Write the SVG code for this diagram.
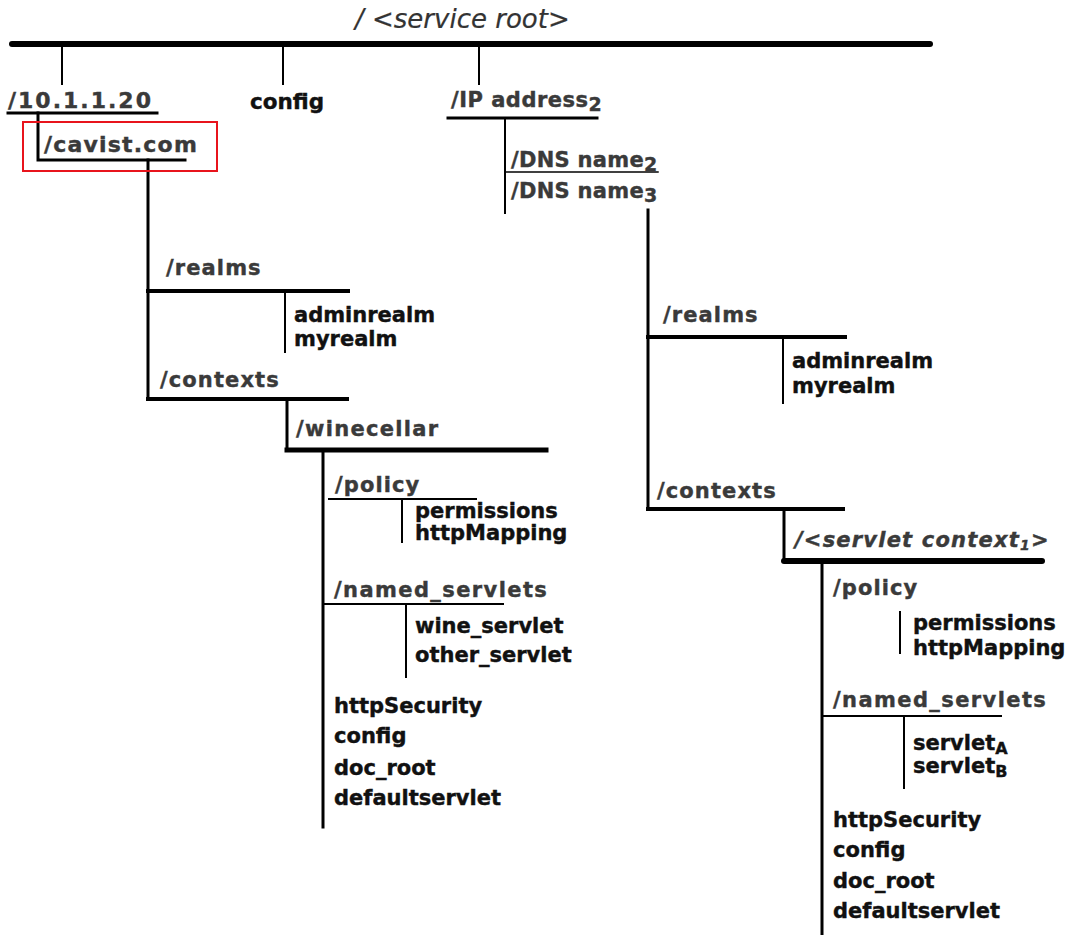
<svg xmlns="http://www.w3.org/2000/svg" width="1075" height="935" viewBox="0 0 1075 935">
<style>
  text { font-family: "DejaVu Sans", "Liberation Sans", sans-serif; font-weight: bold; }
  .h { fill: #3a3a3a; stroke: #3a3a3a; stroke-width: 0.4px; font-size: 21px; letter-spacing: 1.1px; }
  .leaf { fill: #111; stroke: #111; stroke-width: 0.4px; font-size: 21px; }
  .title { fill: #333; font-size: 26px; font-style: italic; font-weight: normal; stroke: #333; stroke-width: 0.2px; }
  .it { font-style: italic; }
  .ln { fill: none; stroke: #000; stroke-linecap: square; }
  .w1 { stroke-width: 1.5; }
  .w2 { stroke-width: 2; }
  .w3 { stroke-width: 3; }
  .w4 { stroke-width: 4; }
  .w5 { stroke-width: 5; }
  .w6 { stroke-width: 6; stroke-linecap: round; }
</style>
<rect width="1075" height="935" fill="#fff"/>
<g id="connectors">
  <path class="ln w6" d="M12,44 H930"/>
  <path class="ln w2" d="M62,44 V84 M283,44 V84 M479,44 V84"/>
  <path class="ln w3" d="M8,113 H157"/>
  <path class="ln w3" d="M38,113 V160 H185"/>
  <path class="ln w3" d="M148,160 V399"/>
  <path class="ln w4" d="M148,291 H348"/>
  <path class="ln w4" d="M148,399 H347"/>
  <path class="ln w2" d="M285,291 V352"/>
  <path class="ln w3" d="M287,399 V450"/>
  <path class="ln w5" d="M287,450 H546"/>
  <path class="ln w3" d="M323,450 V827"/>
  <path class="ln w2" d="M329,499 H476 M402,499 V542"/>
  <path class="ln w2" d="M323,604 H503 M406,604 V677"/>
  <path class="ln w3" d="M448,118 H597"/>
  <path class="ln w2" d="M505,118 V213"/>
  <path class="ln w1" d="M505,172 H658"/>
  <path class="ln w3" d="M648,210 V509"/>
  <path class="ln w4" d="M648,337 H845 M648,509 H843"/>
  <path class="ln w2" d="M783,337 V403"/>
  <path class="ln w3" d="M784,509 V561"/>
  <path class="ln w6" d="M784,561 H1042"/>
  <path class="ln w3" d="M822,561 V935"/>
  <path class="ln w2" d="M900,612 V653"/>
  <path class="ln w2" d="M822,716 H1001 M904,716 V788"/>
</g>
<g id="service-root"><text class="title" x="355" y="28">/ &lt;service root&gt;</text></g>
<g id="ip-10-1-1-20"><text class="h" x="8" y="108" style="font-size:22px;letter-spacing:2px">/10.1.1.20</text></g>
<g id="config-top"><text class="leaf" x="250" y="109" style="font-size:21.5px">config</text></g>
<g id="ip-address2"><text class="h" x="451" y="107" style="letter-spacing:0.5px">/IP address<tspan dy="4" style="font-size:19px">2</tspan></text></g>
<g id="cavist">
  <text class="h" x="44" y="152" style="font-size:22px;letter-spacing:1.2px">/cavist.com</text>
  <rect x="23" y="122" width="194" height="49" fill="none" stroke="#e8141c" stroke-width="2"/>
</g>
<g id="dns-name2"><text class="h" x="511" y="167" style="letter-spacing:0.3px">/DNS name<tspan dy="4" style="font-size:19px">2</tspan></text></g>
<g id="dns-name3"><text class="h" x="511" y="198" style="letter-spacing:0.3px">/DNS name<tspan dy="4" style="font-size:19px">3</tspan></text></g>

<g id="left-realms">
  <text class="h" x="166" y="275">/realms</text>
  <text class="leaf" x="294" y="322">adminrealm</text>
  <text class="leaf" x="294" y="346">myrealm</text>
</g>
<g id="left-contexts"><text class="h" x="160" y="387">/contexts</text></g>
<g id="winecellar"><text class="h" x="296" y="436" style="letter-spacing:1.3px">/winecellar</text></g>
<g id="left-policy">
  <text class="h" x="335" y="492">/policy</text>
  <text class="leaf" x="415" y="518">permissions</text>
  <text class="leaf" x="415" y="540">httpMapping</text>
</g>
<g id="left-named-servlets">
  <text class="h" x="334" y="597" style="letter-spacing:1.4px">/named_servlets</text>
  <text class="leaf" x="415" y="633">wine_servlet</text>
  <text class="leaf" x="415" y="662">other_servlet</text>
</g>
<g id="left-leaves">
  <text class="leaf" x="334" y="713">httpSecurity</text>
  <text class="leaf" x="334" y="743">config</text>
  <text class="leaf" x="334" y="775">doc_root</text>
  <text class="leaf" x="334" y="805">defaultservlet</text>
</g>

<g id="right-realms">
  <text class="h" x="663" y="322">/realms</text>
  <text class="leaf" x="792" y="368">adminrealm</text>
  <text class="leaf" x="792" y="393">myrealm</text>
</g>
<g id="right-contexts"><text class="h" x="657" y="498">/contexts</text></g>
<g id="servlet-context1"><text class="h it" x="795" y="547" style="letter-spacing:1.2px">/&lt;servlet context<tspan dy="3" style="font-size:14px">1</tspan><tspan dy="-3">&gt;</tspan></text></g>
<g id="right-policy">
  <text class="h" x="833" y="595">/policy</text>
  <text class="leaf" x="913" y="630">permissions</text>
  <text class="leaf" x="913" y="655">httpMapping</text>
</g>
<g id="right-named-servlets">
  <text class="h" x="833" y="707" style="letter-spacing:1.4px">/named_servlets</text>
  <text class="leaf" x="913" y="750">servlet<tspan dy="4" style="font-size:16px">A</tspan></text>
  <text class="leaf" x="913" y="773">servlet<tspan dy="4" style="font-size:16px">B</tspan></text>
</g>
<g id="right-leaves">
  <text class="leaf" x="833" y="827">httpSecurity</text>
  <text class="leaf" x="833" y="857">config</text>
  <text class="leaf" x="833" y="888">doc_root</text>
  <text class="leaf" x="833" y="918">defaultservlet</text>
</g>
</svg>
